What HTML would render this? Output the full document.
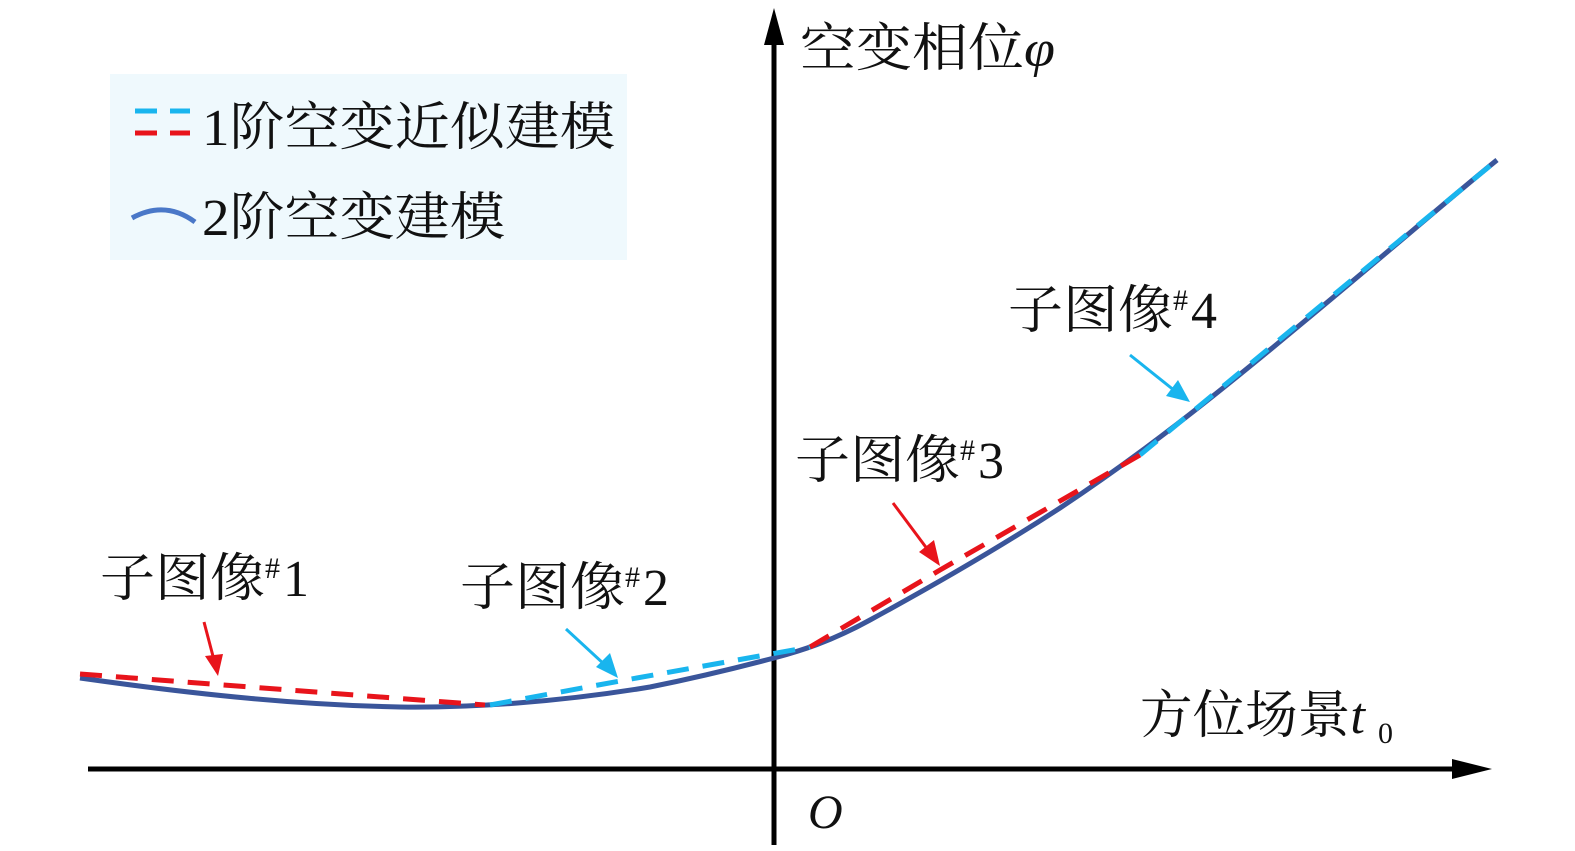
<!DOCTYPE html>
<html><head><meta charset="utf-8"><style>
html,body{margin:0;padding:0;background:#fff}
svg{display:block}
text{font-family:"Liberation Serif","Noto Serif CJK SC",serif;fill:#111}
</style></head><body>
<svg width="1575" height="851" viewBox="0 0 1575 851" xmlns="http://www.w3.org/2000/svg">
<rect x="110" y="74" width="517" height="186" fill="#eff9fd"/>
<line x1="135" y1="111" x2="157" y2="111" stroke="#19b5ee" stroke-width="5"/>
<line x1="170" y1="111" x2="190" y2="111" stroke="#19b5ee" stroke-width="5"/>
<line x1="135" y1="133" x2="157" y2="133" stroke="#e8141b" stroke-width="5"/>
<line x1="170" y1="133" x2="190" y2="133" stroke="#e8141b" stroke-width="5"/>
<text x="202" y="145" font-size="52" textLength="413" lengthAdjust="spacingAndGlyphs">1阶空变近似建模</text>
<path d="M132,218 Q165,200 195,222" fill="none" stroke="#4a78c8" stroke-width="5"/>
<text x="202" y="235" font-size="52" textLength="303" lengthAdjust="spacingAndGlyphs">2阶空变建模</text>
<!-- axes -->
<line x1="774" y1="845" x2="774" y2="30" stroke="#000" stroke-width="5"/>
<polygon points="774,8 764,45 784,45" fill="#000"/>
<line x1="88" y1="769" x2="1460" y2="769" stroke="#000" stroke-width="5"/>
<polygon points="1492,769 1452,759 1452,779" fill="#000"/>
<text x="800" y="66" font-size="52" textLength="255" lengthAdjust="spacingAndGlyphs">空变相位<tspan font-style="italic">φ</tspan></text>
<text x="1140" y="733" font-size="52" textLength="225" lengthAdjust="spacingAndGlyphs">方位场景<tspan font-style="italic">t</tspan></text>
<text x="1378" y="743" font-size="30">0</text>
<text x="808" y="828" font-size="48" font-style="italic">O</text>
<!-- solid curve -->
<path d="M80,678 C200,695 300,705 400,707 C470,708 560,702 650,687 C700,677 740,667 774,658 C800,651 830,642 870,620 C940,582 1000,547 1060,508 C1140,455 1210,400 1300,325 C1400,242 1450,198 1497,160" fill="none" stroke="#3a559a" stroke-width="5"/>
<!-- dashed -->
<g fill="none" stroke-width="5" stroke-dasharray="22,14">
<path d="M80,674 L485,705" stroke="#e8141b"/>
<path d="M490,705 L620,681 L810,647" stroke="#19b5ee"/>
<path d="M810,647 L940,570 L1140,455" stroke="#e8141b"/>
<path d="M1140,455 L1497,160" stroke="#19b5ee"/>
</g>
<!-- arrows -->
<g stroke-width="3">
<line x1="204" y1="622" x2="214" y2="660" stroke="#e8141b"/>
<polygon points="218,676 205,656 223,654" fill="#e8141b"/>
<line x1="566" y1="629" x2="605" y2="665" stroke="#19b5ee"/>
<polygon points="618,678 596,667 610,653" fill="#19b5ee"/>
<line x1="893" y1="503" x2="928" y2="550" stroke="#e8141b"/>
<polygon points="940,566 919,552 934,540" fill="#e8141b"/>
<line x1="1130" y1="355" x2="1175" y2="391" stroke="#19b5ee"/>
<polygon points="1190,402 1166,396 1178,380" fill="#19b5ee"/>
</g>
<g font-size="52">
<text x="100" y="596" textLength="165" lengthAdjust="spacingAndGlyphs">子图像</text>
<text x="265" y="578" font-size="30">#</text><text x="283" y="596">1</text>
<text x="460" y="605" textLength="165" lengthAdjust="spacingAndGlyphs">子图像</text>
<text x="625" y="587" font-size="30">#</text><text x="643" y="605">2</text>
<text x="795" y="478" textLength="165" lengthAdjust="spacingAndGlyphs">子图像</text>
<text x="960" y="460" font-size="30">#</text><text x="978" y="478">3</text>
<text x="1008" y="328" textLength="165" lengthAdjust="spacingAndGlyphs">子图像</text>
<text x="1173" y="310" font-size="30">#</text><text x="1191" y="328">4</text>
</g>
</svg>
</body></html>
